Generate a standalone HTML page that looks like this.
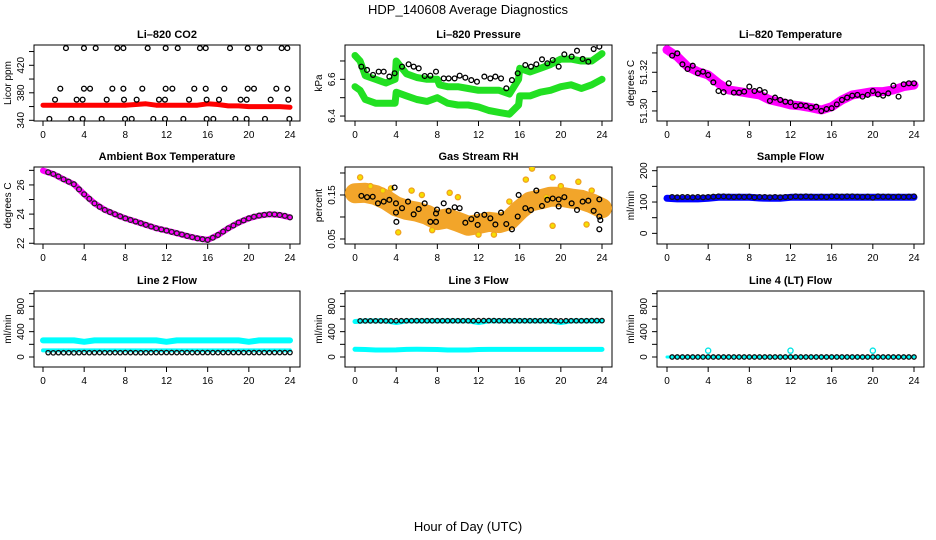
<!DOCTYPE html>
<html><head><meta charset="utf-8"><style>
html,body{margin:0;padding:0;background:#fff;}
svg{display:block;font-family:"Liberation Sans",Arial,sans-serif;}
</style></head><body>
<svg id="chart" width="936" height="540" viewBox="0 0 936 540">
<text x="468" y="14" text-anchor="middle" font-size="13">HDP_140608  Average Diagnostics</text>
<text x="468" y="531" text-anchor="middle" font-size="13">Hour of Day (UTC)</text>
</svg>
<script>
const halfHours=[0.5,1,1.5,2,2.5,3,3.5,4,4.5,5,5.5,6,6.5,7,7.5,8,8.5,9,9.5,10,10.5,11,11.5,12,12.5,13,13.5,14,14.5,15,15.5,16,16.5,17,17.5,18,18.5,19,19.5,20,20.5,21,21.5,22,22.5,23,23.5,24];
const hourly=[0,1,2,3,4,5,6,7,8,9,10,11,12,13,14,15,16,17,18,19,20,21,22,23,24];
const xTicks=[0,4,8,12,16,20,24];
// CO2
const co2Red=[362,362,362,362,362,362,362,362,362,363,364,362,362,362,362,362,364,363,361,361,360,360,360,360,359];
const co2BlackH=[2.23,3.98,5.12,7.22,7.81,10.17,11.92,13.09,15.25,15.81,18.17,19.89,21.05,23.19,23.74,1.68,3.98,4.57,6.74,7.81,9.65,11.92,12.57,14.7,15.81,17.62,19.89,20.5,22.67,23.74,1.17,3.27,3.85,6.19,7.87,9.1,11.27,11.85,14.19,15.9,17.1,19.2,19.79,22.12,23.84,0.62,2.75,3.85,5.7,7.97,8.62,10.72,11.85,13.64,15.9,16.55,18.69,19.79,21.57,23.94];
const co2BlackV=[445,445,445,445,445,445,445,445,445,445,445,445,445,445,445,386,386,386,386,386,386,386,386,386,386,386,386,386,386,386,370,370,370,370,370,370,370,370,370,370,370,370,370,370,370,342,342,342,342,342,342,342,342,342,342,342,342,342,342,342];
// Pressure
const presUpH=[0,0.5,1,2,3,3.9,4,5,6,7,8,8.2,9,10,11,12,13,14,15,15.9,16,17,18,19,20,21,22,23,24];
const presUpV=[6.73,6.70,6.62,6.60,6.58,6.60,6.70,6.63,6.61,6.60,6.60,6.57,6.56,6.56,6.55,6.54,6.54,6.54,6.52,6.60,6.66,6.64,6.66,6.68,6.71,6.71,6.70,6.70,6.74];
const presLoH=[0,0.5,1,2,3,3.9,4,5,6,7,8,9,10,11,12,13,14,15,15.9,16,17,18,19,20,21,22,23,24];
const presLoV=[6.56,6.54,6.49,6.47,6.47,6.47,6.53,6.51,6.49,6.48,6.50,6.47,6.46,6.46,6.45,6.43,6.42,6.41,6.46,6.51,6.51,6.53,6.54,6.56,6.57,6.55,6.57,6.6];
const presBlackH=[0.62,1.17,1.75,2.3,2.79,3.34,3.85,4.57,5.21,5.7,6.19,6.77,7.32,7.87,8.62,9.1,9.68,10.17,10.72,11.3,11.85,12.57,13.15,13.64,14.19,14.7,15.25,15.81,16.55,17.1,17.62,18.17,18.69,19.21,19.79,20.34,21.05,21.57,22.12,22.67,23.19,23.74];
const presBlackV=[6.669,6.651,6.624,6.642,6.642,6.615,6.633,6.669,6.682,6.669,6.66,6.618,6.62,6.642,6.605,6.605,6.605,6.62,6.609,6.596,6.587,6.615,6.605,6.615,6.605,6.551,6.596,6.633,6.678,6.669,6.682,6.709,6.687,6.705,6.669,6.736,6.724,6.756,6.711,6.696,6.765,6.778];
// Li-820 temperature
const tempBand=[51.3316,51.3281,51.3229,51.3203,51.3186,51.3143,51.3109,51.31,51.3091,51.3083,51.3057,51.3045,51.3031,51.3026,51.3017,51.3005,51.3022,51.3057,51.3083,51.3091,51.31,51.31,51.3109,51.3126,51.3134];
const tempBlack=[51.3286,51.3298,51.3241,51.3217,51.3234,51.3195,51.3203,51.3186,51.3148,51.3103,51.3097,51.3143,51.3095,51.3095,51.31,51.3126,51.3103,51.3109,51.3097,51.3052,51.3069,51.3057,51.3048,51.3045,51.3026,51.3029,51.3026,51.3017,51.3022,51.3,51.301,51.3014,51.3034,51.3057,51.3069,51.3079,51.3083,51.3074,51.3083,51.3103,51.3086,51.3079,51.3091,51.3131,51.3074,51.3138,51.3143,51.3143];
// Ambient
const ambBand=[26.98,26.75,26.39,26.05,25.36,24.74,24.29,23.99,23.71,23.49,23.26,23.03,22.87,22.69,22.5,22.34,22.23,22.57,23.03,23.42,23.71,23.9,23.99,23.94,23.78];
const ambBlack=[26.87,26.75,26.58,26.39,26.22,26.05,25.7,25.36,25.05,24.74,24.5,24.29,24.14,23.99,23.85,23.71,23.6,23.49,23.38,23.26,23.15,23.03,22.95,22.87,22.78,22.69,22.6,22.5,22.42,22.34,22.28,22.23,22.38,22.57,22.8,23.03,23.22,23.42,23.57,23.71,23.82,23.9,23.95,23.99,23.98,23.94,23.88,23.78];
// RH
const rhBand=[0.154,0.155,0.15,0.139,0.124,0.116,0.112,0.105,0.093,0.097,0.089,0.08,0.084,0.089,0.086,0.093,0.116,0.135,0.14,0.146,0.146,0.142,0.139,0.131,0.12];
const rhOutH=[0.5,2.7,4.2,5.5,6.5,9.2,10,12,15,16.6,17.2,18.6,19.2,20,21.7,19.2,22.5,1.5,3.5,7.5,13.5,23];
const rhOutV=[0.19,0.16,0.065,0.16,0.15,0.155,0.145,0.06,0.135,0.185,0.21,0.145,0.19,0.17,0.18,0.08,0.083,0.17,0.165,0.07,0.06,0.16];
const rhBlackH=[0.62,1.17,1.72,2.23,2.79,3.34,3.85,3.98,3.98,4.02,4.57,5.15,5.7,6.19,6.77,7.32,7.87,7.87,7.97,8.62,9.1,9.68,10.17,10.72,11.3,11.85,11.92,12.57,13.15,13.64,14.19,14.7,15.25,15.81,15.9,16.55,17.1,17.62,18.17,18.69,19.21,19.79,19.79,20.34,21.05,21.57,22.12,22.67,23.19,23.74,23.74,23.84,23.74];
const rhBlackV=[0.148,0.145,0.146,0.131,0.135,0.139,0.167,0.131,0.11,0.089,0.12,0.135,0.106,0.118,0.131,0.089,0.089,0.108,0.117,0.131,0.114,0.122,0.12,0.087,0.095,0.105,0.082,0.105,0.097,0.083,0.11,0.084,0.072,0.101,0.15,0.12,0.116,0.16,0.125,0.139,0.142,0.14,0.124,0.145,0.131,0.116,0.135,0.137,0.114,0.14,0.101,0.093,0.072];
// Flows
const sampleBand=[112,110,110,110,112,115,115,115,115,113,112,112,115,115,115,115,115,115,115,115,115,115,115,115,115];
const sampleBlack=[116,115,116,116,115,116,115,116,117,118,118,117,116,117,116,117,115,116,116,115,116,115,116,116,118,117,118,117,116,117,116,118,118,117,118,118,117,116,117,114,118,117,117,116,117,116,117,118];
const line2Upper=[262,262,262,262,240,262,262,262,262,262,262,262,240,262,262,262,262,262,262,262,240,262,262,262,262];
const line2Lower=[104,104,104,104,104,104,104,104,104,104,104,104,104,104,104,104,104,104,104,104,104,104,104,104,104];
const line2Black=[68,66,68,67,68,66,68,70,68,68,69,68,68,69,68,70,69,68,68,68,69,70,70,70,70,69,70,70,69,70,70,70,70,69,70,70,70,70,70,70,70,70,70,70,70,70,70,70];
const line3Upper=[560,570,570,570,545,570,570,570,570,570,570,570,545,570,570,570,570,570,570,570,545,570,570,570,570];
const line3Lower=[122,118,110,110,112,120,122,120,118,110,110,110,118,120,120,120,120,120,120,120,120,120,120,120,120];
const line3Black=[570,570,570,570,570,570,570,572,572,572,572,572,572,572,572,572,572,572,572,572,572,572,572,574,574,574,574,572,572,572,572,572,572,572,572,572,572,572,572,570,572,572,572,572,572,574,574,574];
const line4Cyan=[0,0,0,0,0,0,0,0,0,0,0,0,0,0,0,0,0,0,0,0,0,0,0,0,0];
const line4CircH=[4,12,20];
const line4CircV=[100,100,100];
const line4Black=[0,0,0,0,0,0,0,0,0,0,0,0,0,0,0,0,0,0,0,0,0,0,0,0,0,0,0,0,0,0,0,0,0,0,0,0,0,0,0,0,0,0,0,0,0,0,0,0];

const NS='http://www.w3.org/2000/svg';
const svg=document.getElementById('chart');
function mk(tag,attrs,parent){const e=document.createElementNS(NS,tag);for(const k in attrs)e.setAttribute(k,attrs[k]);(parent||svg).appendChild(e);return e;}
const colX=[[34,300,43,290],[345,612,355,602],[657,924,667,914]];
const rowY=[[45,121],[167,244],[291,367]];
function panel(c,r,name,title,ylab,lo,hi,ticks,labels){
  const g=mk('g',{});
  
  
  const [fl,fr,x0,x24]=colX[c];const [ft,fb]=rowY[r];
  const sx=h=>x0+(x24-x0)*h/24;
  const sy=v=>fb-(v-lo)/(hi-lo)*(fb-ft);
  const t=mk('text',{x:(fl+fr)/2,y:ft-7,'text-anchor':'middle','font-size':'11','font-weight':'bold'},g);
  t.textContent=title;
  
  
  const yt=mk('text',{x:0,y:0,'text-anchor':'middle','font-size':'10',transform:`translate(${fl-23},${(ft+fb)/2}) rotate(-90)`},g);
  yt.textContent=ylab;
  
  
  const fr_=mk('rect',{x:fl,y:ft,width:fr-fl,height:fb-ft,fill:'none',stroke:'#000','stroke-width':1},g);
  
  
  xTicks.forEach(h=>{mk('line',{x1:sx(h),x2:sx(h),y1:fb,y2:fb+5,stroke:'#000'},g);
    const l=mk('text',{x:sx(h),y:fb+17,'text-anchor':'middle','font-size':'10'},g);l.textContent=h;
    
    });
  ticks.forEach(v=>{mk('line',{x1:fl-5,x2:fl,y1:sy(v),y2:sy(v),stroke:'#000'},g);});
  labels.forEach(s=>{const v=parseFloat(s);const l=mk('text',{x:0,y:0,'text-anchor':'middle','font-size':'10',transform:`translate(${fl-10},${sy(v)}) rotate(-90)`},g);l.textContent=s;
    
    });
  const clip='clip'+c+r;
  const cp=mk('clipPath',{id:clip},g);mk('rect',{x:fl,y:ft,width:fr-fl,height:fb-ft},cp);
  const inner=mk('g',{'clip-path':`url(#${clip})`},g);
  return {g:inner,sx,sy};
}
function band(p,hs,vs,color,w,name){
  const pts=hs.map((h,i)=>p.sx(h).toFixed(1)+','+p.sy(vs[i]).toFixed(1)).join(' ');
  const e=mk('polyline',{points:pts,fill:'none',stroke:color,'stroke-width':w,'stroke-linejoin':'round','stroke-linecap':'round'},p.g);
  
  
}
function pts(p,hs,vs,color,name,r,fill){
  hs.forEach((h,i)=>{const e=mk('circle',{cx:p.sx(h),cy:p.sy(vs[i]),r:r||2.4,fill:fill||'none',stroke:color,'stroke-width':1.3},p.g);
    
    });
}
let p;
p=panel(0,0,'co2-panel','Li\u2013820 CO2','Licor ppm',339,449.5,[340,360,380,400,420,440],['340','380','420']);
band(p,hourly,co2Red,'#ff0000',5,'co2-red-series');
pts(p,co2BlackH,co2BlackV,'#000','co2-point');
p=panel(1,0,'pressure-panel','Li\u2013820 Pressure','kPa',6.373,6.787,[6.4,6.5,6.6,6.7],['6.4','6.6']);
band(p,presUpH,presUpV,'#22e022',7,'pressure-upper-series');
band(p,presLoH,presLoV,'#22e022',7,'pressure-lower-series');
pts(p,presBlackH,presBlackV,'#000','pressure-point');
p=panel(2,0,'li820-temp-panel','Li\u2013820 Temperature','degrees C',51.2948,51.3341,[51.30,51.31,51.32,51.33],['51.30','51.32']);
band(p,hourly,tempBand,'#ff00ff',9,'li820-temp-band');
pts(p,halfHours,tempBlack,'#000','li820-temp-point');
p=panel(0,1,'ambient-temp-panel','Ambient Box Temperature','degrees C',21.95,27.23,[22,23,24,25,26,27],['22','24','26']);
band(p,hourly,ambBand,'#ff00ff',6,'ambient-temp-band');
pts(p,halfHours,ambBlack,'#222','ambient-temp-point');
p=panel(1,1,'rh-panel','Gas Stream RH','percent',0.0386,0.2136,[0.05,0.10,0.15,0.20],['0.05','0.15']);
band(p,hourly,rhBand,'#f2a52a',20,'rh-band');
pts(p,rhOutH,rhOutV,'#f0a020','rh-outlier',2.6,'#f5e000');
pts(p,rhBlackH,rhBlackV,'#000','rh-point');
p=panel(2,1,'sample-flow-panel','Sample Flow','ml/min',-34,211.8,[0,50,100,150,200],['0','100','200']);
band(p,hourly,sampleBand,'#0000ff',7,'sample-flow-band');
pts(p,halfHours,sampleBlack,'#111','sample-flow-point');
const fT=[0,200,400,600,800,1000],fL=['0','400','800'];
p=panel(0,2,'line2-flow-panel','Line 2 Flow','ml/min',-158,1042,fT,fL);
band(p,hourly,line2Upper,'#00ffff',6,'line2-upper-band');
band(p,hourly,line2Lower,'#00ffff',4,'line2-lower-band');
pts(p,halfHours,line2Black,'#111','line2-point',2.2);
p=panel(1,2,'line3-flow-panel','Line 3 Flow','ml/min',-158,1042,fT,fL);
band(p,hourly,line3Upper,'#00ffff',5,'line3-upper-band');
band(p,hourly,line3Lower,'#00ffff',5,'line3-lower-band');
pts(p,halfHours,line3Black,'#111','line3-point',2.2);
p=panel(2,2,'line4-flow-panel','Line 4 (LT) Flow','ml/min',-158,1042,fT,fL);
band(p,hourly,line4Cyan,'#00ffff',3,'line4-band');
pts(p,line4CircH,line4CircV,'#00e5e5','line4-cyan-point',2.6);
pts(p,halfHours,line4Black,'#111','line4-point',2.2);
</script>
</body></html>
